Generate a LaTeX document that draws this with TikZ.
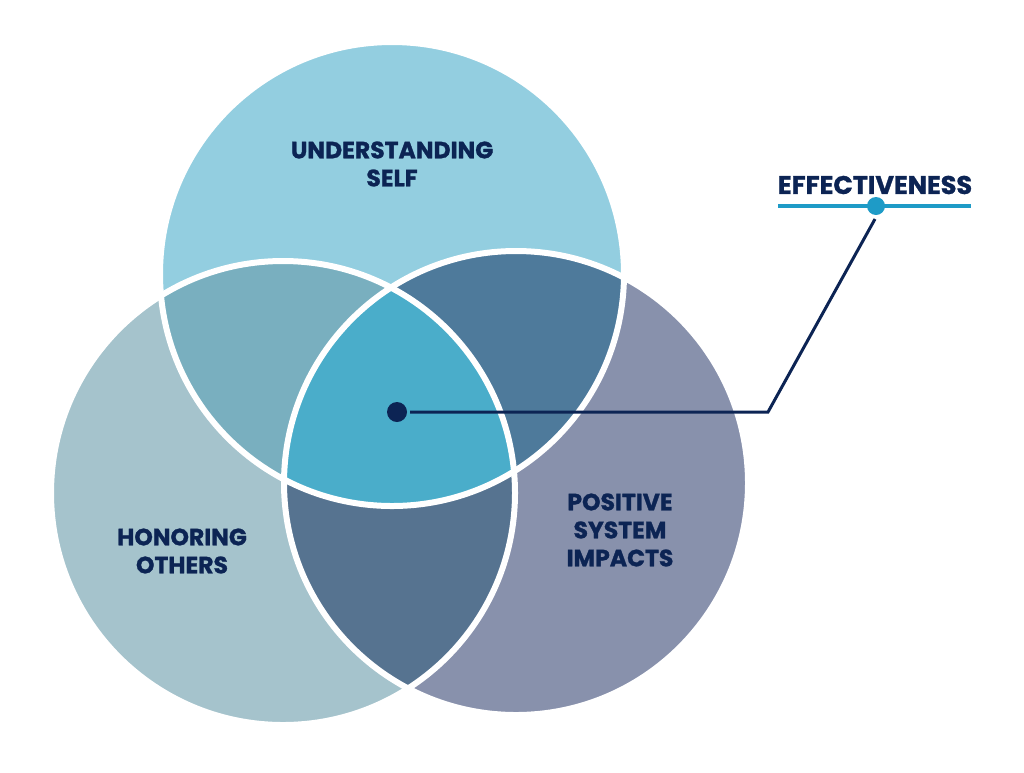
\documentclass[tikz,border=0pt]{standalone}
\usepackage{fontspec}
\setmainfont{Poppins}[BoldFeatures={FakeBold=1.2}]
\definecolor{topc}{HTML}{93CEE0}
\definecolor{leftc}{HTML}{A5C3CC}
\definecolor{rightc}{HTML}{8891AC}
\definecolor{tlc}{HTML}{79AFBF}
\definecolor{trc}{HTML}{4E7A9B}
\definecolor{lrc}{HTML}{567390}
\definecolor{centc}{HTML}{4AADCA}
\definecolor{navy}{HTML}{0C2454}
\definecolor{accent}{HTML}{1E9BC7}
\tikzset{
  lbl/.style={text=navy, align=center, font=\fontsize{23.5}{28}\selectfont\bfseries, inner sep=0},
  outline/.style={draw=white, line width=6pt},
  leader/.style={draw=navy, line width=3pt}
}
\begin{document}
\begin{tikzpicture}[x=1pt,y=-1pt]
\useasboundingbox (0,0) rectangle (1024,772);
\coordinate (T) at (392,274);
\coordinate (L) at (283,493);
\coordinate (R) at (516,483);
\def\rr{232}
\fill[topc] (T) circle (\rr);
\fill[leftc] (L) circle (\rr);
\fill[rightc] (R) circle (\rr);
\begin{scope}\clip (T) circle (\rr); \fill[tlc] (L) circle (\rr); \end{scope}
\begin{scope}\clip (T) circle (\rr); \fill[trc] (R) circle (\rr); \end{scope}
\begin{scope}\clip (L) circle (\rr); \fill[lrc] (R) circle (\rr); \end{scope}
\begin{scope}\clip (T) circle (\rr); \clip (L) circle (\rr); \fill[centc] (R) circle (\rr); \end{scope}
\draw[outline] (T) circle (\rr);
\draw[outline] (L) circle (\rr);
\draw[outline] (R) circle (\rr);
\node[lbl] (self) at (392,164) {UNDERSTANDING\\SELF};
\node[lbl] (others) at (182,551) {HONORING\\OTHERS};
\node[lbl] (system) at (620,530) {POSITIVE\\SYSTEM\\IMPACTS};
\node[text=navy, font=\fontsize{25.5}{28}\selectfont\bfseries, inner sep=0] (eff) at (875,185) {EFFECTIVENESS};
\coordinate (ulA) at (778,206);
\coordinate (ulB) at (971,206);
\draw[accent, line width=4pt] (ulA) -- (ulB);
\fill[accent] (876,206) circle (9);
\coordinate (tip) at (875,219);
\coordinate (bend) at (768,412);
\node[circle, fill=navy, minimum size=20pt, inner sep=0] (dot) at (397,412) {};
\coordinate (start) at (410,412);
\draw[leader] (start) -- (bend) -- (tip);
\end{tikzpicture}
\end{document}
